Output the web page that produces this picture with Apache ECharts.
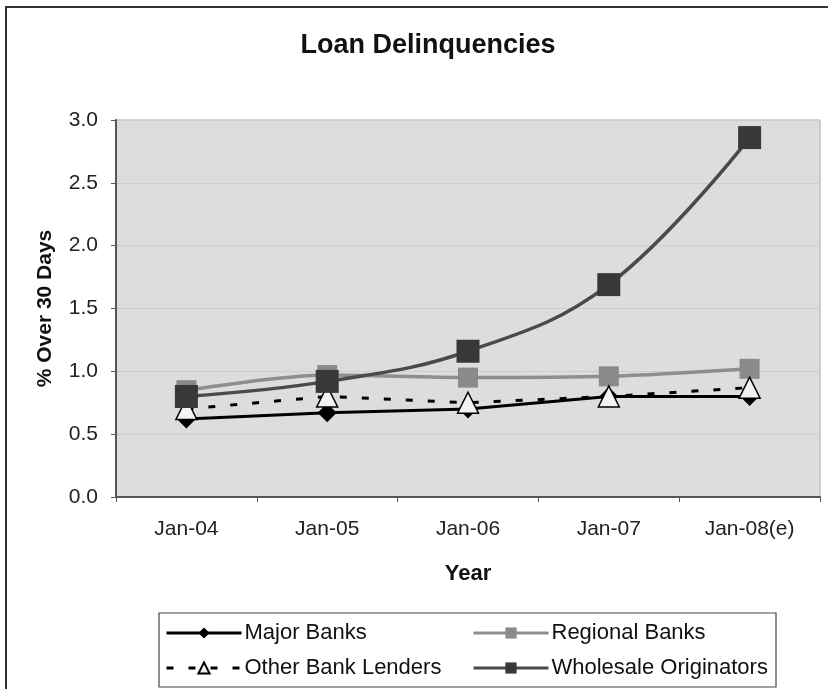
<!DOCTYPE html>
<html>
<head>
<meta charset="utf-8">
<script src="https://cdn.jsdelivr.net/npm/echarts@6/dist/echarts.min.js"></script>
<style>
  html, body { margin: 0; padding: 0; background: #fff; }
  #chart1 { width: 828px; height: 689px; }
</style>
</head>
<body>
<div id="chart1"></div>
<script>
  var years = ['Jan-04', 'Jan-05', 'Jan-06', 'Jan-07', 'Jan-08(e)'];
  var majorList = [0.62, 0.67, 0.70, 0.80, 0.80];
  var regionalList = [0.85, 0.97, 0.95, 0.96, 1.02];
  var otherList = [0.70, 0.80, 0.75, 0.80, 0.87];
  var wholesaleList = [0.80, 0.92, 1.16, 1.69, 2.86];

  var fontName = '"Liberation Sans", Arial, sans-serif';

  // 연체율 라인 차트
  const getLoanDelinquencies = chartId => {
    let myChart = echarts.init(document.getElementById(chartId));
    let option;

    option = {
      backgroundColor: '#fff',
      animation: false,
      title: {
        text: 'Loan Delinquencies',
        left: 423,
        top: 27,
        textAlign: 'center',
        textStyle: { fontFamily: fontName, fontSize: 27, fontWeight: 'bold', color: '#111' }
      },
      grid: {
        left: 116,
        right: 8,
        top: 120,
        bottom: 192,
        show: true,
        backgroundColor: '#dddddd',
        borderColor: '#a8a8a8',
        borderWidth: 1
      },
      legend: [
        {
          orient: 'vertical',
          left: 165,
          top: 622,
          padding: 0,
          itemWidth: 75,
          itemHeight: 14,
          itemGap: 13,
          data: ['Major Banks', 'Other Bank Lenders'],
          lineStyle: { width: 3 },
          textStyle: { fontFamily: fontName, fontSize: 22, color: '#111', lineHeight: 22, padding: [0, 0, 0, -2] }
        },
        {
          orient: 'vertical',
          left: 472,
          top: 622,
          padding: 0,
          itemWidth: 75,
          itemHeight: 14,
          itemGap: 13,
          data: ['Regional Banks', 'Wholesale Originators'],
          lineStyle: { width: 3 },
          textStyle: { fontFamily: fontName, fontSize: 22, color: '#111', lineHeight: 22, padding: [0, 0, 0, -2] }
        }
      ],
      graphic: [
        {
          type: 'rect',
          silent: true,
          z: -10,
          shape: { x: 6, y: 7, width: 900, height: 800 },
          style: { fill: 'none', stroke: '#333', lineWidth: 2 }
        },
        {
          type: 'rect',
          silent: true,
          z: -10,
          shape: { x: 159, y: 613, width: 617, height: 74 },
          style: { fill: 'none', stroke: '#444', lineWidth: 1.2 }
        }
      ],
      xAxis: {
        type: 'category',
        data: years,
        name: 'Year',
        nameLocation: 'middle',
        nameGap: 66,
        nameTextStyle: { fontFamily: fontName, fontSize: 22, fontWeight: 'bold', color: '#111' },
        axisLine: { lineStyle: { color: '#555', width: 2 } },
        axisTick: { show: true, length: 5, lineStyle: { color: '#555' } },
        axisLabel: { fontFamily: fontName, fontSize: 21, color: '#222', margin: 22 }
      },
      yAxis: {
        type: 'value',
        min: 0,
        max: 3,
        interval: 0.5,
        name: '% Over 30 Days',
        nameLocation: 'middle',
        nameGap: 60,
        nameTextStyle: { fontFamily: fontName, fontSize: 21, fontWeight: 'bold', color: '#111' },
        axisLine: { show: true, lineStyle: { color: '#555', width: 2 } },
        axisTick: { show: true, length: 5, lineStyle: { color: '#555' } },
        axisLabel: {
          fontFamily: fontName, fontSize: 21, color: '#222', margin: 18,
          formatter: v => v.toFixed(1)
        },
        splitLine: { lineStyle: { color: '#cdcdcd', width: 1 } }
      },
      series: [
        {
          name: 'Major Banks',
          type: 'line',
          data: majorList,
          symbol: 'diamond',
          symbolSize: 19,
          lineStyle: { color: '#000', width: 3 },
          itemStyle: { color: '#000' }
        },
        {
          name: 'Regional Banks',
          type: 'line',
          data: regionalList,
          smooth: 0.3,
          symbol: 'rect',
          symbolSize: 20,
          lineStyle: { color: '#8e8e8e', width: 3.5 },
          itemStyle: { color: '#8a8a8a' }
        },
        {
          name: 'Other Bank Lenders',
          type: 'line',
          data: otherList,
          symbol: 'triangle',
          symbolSize: 21,
          lineStyle: { color: '#000', width: 3, type: [7, 15] },
          itemStyle: { color: '#f2f2f2', borderColor: '#000', borderWidth: 1.5 }
        },
        {
          name: 'Wholesale Originators',
          type: 'line',
          data: wholesaleList,
          smooth: 0.4,
          symbol: 'rect',
          symbolSize: 23,
          lineStyle: { color: '#4a4a4a', width: 3.5 },
          itemStyle: { color: '#383838' }
        }
      ]
    };

    option && myChart.setOption(option);
  }

  getLoanDelinquencies('chart1');
</script>
</body>
</html>
